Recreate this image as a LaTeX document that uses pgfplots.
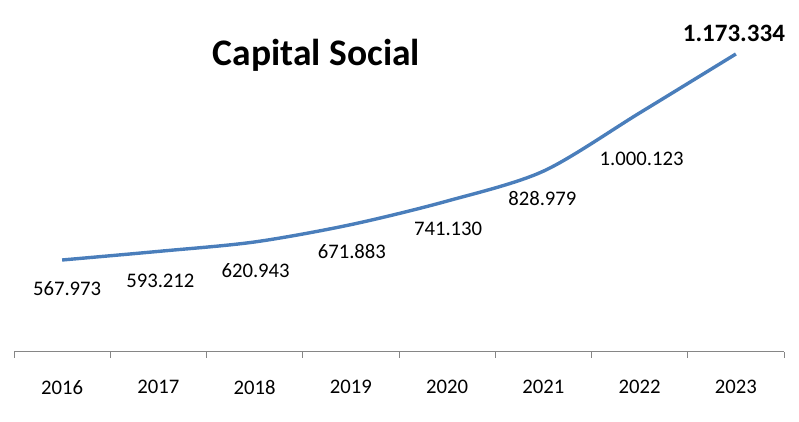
\documentclass[border=0pt]{standalone}
\usepackage{pgfplots}
\pgfplotsset{compat=1.18}
\usepackage{pgfplotstable}
\usepackage{fontspec}
\setmainfont{Carlito}
\definecolor{serieblue}{HTML}{4A7EBB}
\definecolor{axgray}{HTML}{868686}
\pgfplotstableread{
x y
0 567973
1 593212
2 620943
3 671883
4 741130
5 828979
6 1000123
7 1173334
}\datatab
\pgfplotsset{
  lbl/.style 2 args={draw=none, mark=none, nodes near coords, point meta=explicit symbolic,
    nodes near coords style={font=\fontsize{20.7}{24}\selectfont, anchor=center, yshift=-#2pt, xshift=#1pt, text=black}},
}
\begin{document}
\begin{tikzpicture}[x=1pt,y=1pt]
\useasboundingbox (0,0) rectangle (799,422);
\begin{axis}[
  at={(14pt,70pt)}, anchor=south west,
  scale only axis, width=770pt, height=352pt,
  xmin=-0.5, xmax=7.5, ymin=297600, ymax=1332000,
  axis x line*=bottom, axis y line=none,
  x axis line style={-, axgray, line width=1pt},
  xtick={0,...,7}, xticklabels={2016,2017,2018,2019,2020,2021,2022,2023},
  major x tick style={draw=none},
  minor xtick={-0.5,0.5,...,7.5},
  minor x tick style={axgray, line width=1pt},
  minor tick length=6pt, tick align=outside,
  xticklabel style={font=\fontsize{20.7}{24}\selectfont, anchor=center, yshift=-31pt},
  clip=false,
]
\addplot[serieblue, line width=3.4pt, smooth, mark=none] table[x=x,y=y] {\datatab};
\addplot[lbl={5}{29}] coordinates {(0,567973) [567.973]};
\addplot[lbl={2}{29}] coordinates {(1,593212) [593.212]};
\addplot[lbl={1}{29}] coordinates {(2,620943) [620.943]};
\addplot[lbl={1}{27}] coordinates {(3,671883) [671.883]};
\addplot[lbl={1}{28}] coordinates {(4,741130) [741.130]};
\addplot[lbl={-1}{27}] coordinates {(5,828979) [828.979]};
\addplot[lbl={2}{46}] coordinates {(6,1000123) [1.000.123]};
\addplot[draw=none, mark=none, nodes near coords, point meta=explicit symbolic,
  nodes near coords style={font=\fontsize{25}{30}\selectfont\bfseries, anchor=center, yshift=21pt, xshift=-2pt, text=black}]
  coordinates {(7,1173334) [1.173.334]};
\end{axis}
\node[font=\fontsize{37.5}{44}\selectfont\bfseries, anchor=base] at (316.5,356) {Capital Social};
\end{tikzpicture}
\end{document}
